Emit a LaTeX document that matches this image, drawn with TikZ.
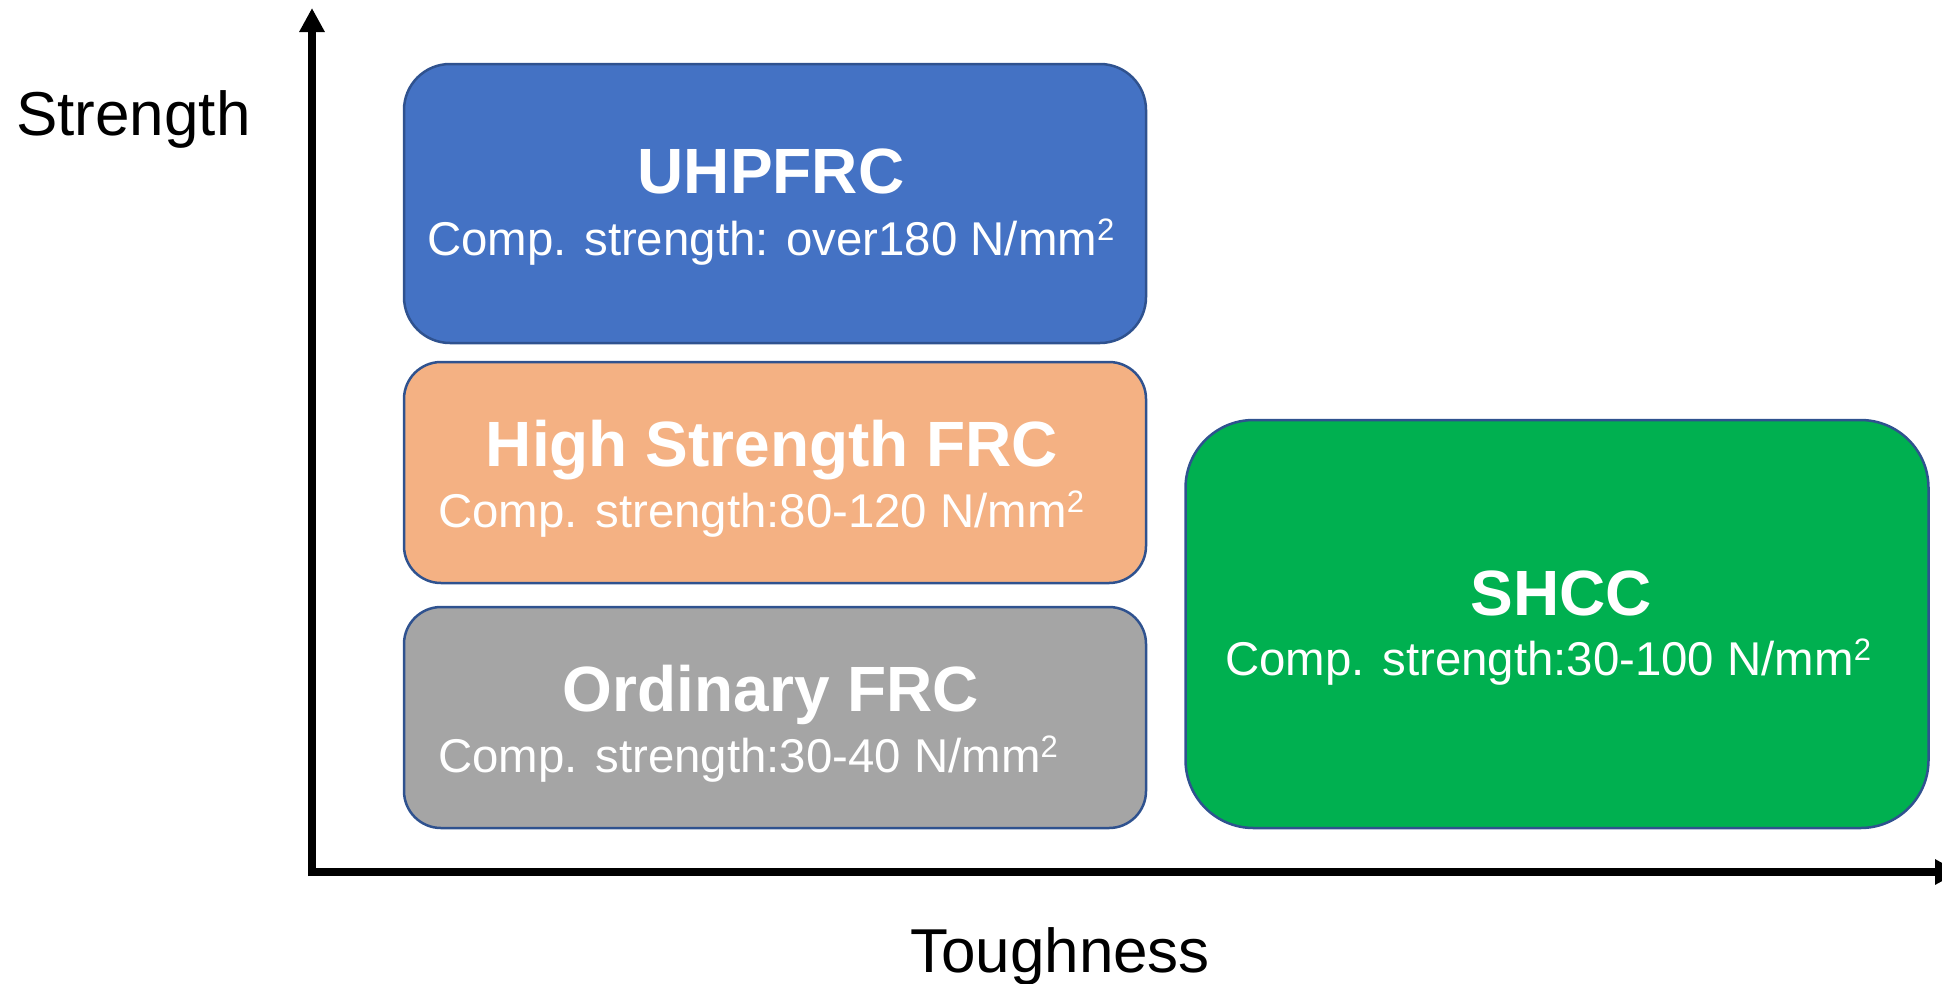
\documentclass[tikz,border=0pt]{standalone}
\usepackage{fontspec}
\setmainfont{Liberation Sans}
\usetikzlibrary{arrows.meta}
\definecolor{uhpblue}{HTML}{4472C4}
\definecolor{hsorange}{HTML}{F4B183}
\definecolor{ordgray}{HTML}{A5A5A5}
\definecolor{shccgreen}{HTML}{00B050}
\definecolor{edgeblue}{HTML}{2F528F}
\newcommand\sqmm{mm\raisebox{15pt}{\fontsize{31}{31}\selectfont 2}}
\tikzset{
  matbox/.style={draw=edgeblue, line width=2.5pt, inner sep=0pt, outer sep=0pt},
  title/.style={anchor=base, inner sep=0pt, text=white, font=\fontsize{64}{64}\selectfont\bfseries},
  sub/.style={anchor=base west, inner sep=0pt, text=white, font=\fontsize{47.4}{47.4}\selectfont},
  axlabel/.style={inner sep=0pt, text=black, font=\fontsize{62}{62}\selectfont},
  axis/.style={line width=8pt, -{Triangle[length=24pt,width=24pt]}}
}
\begin{document}
\begin{tikzpicture}[x=1pt,y=-1pt]
\useasboundingbox (0,0) rectangle (1942,983);
% boxes
\node[matbox, fill=uhpblue, rounded corners=46pt, minimum width=742pt, minimum height=279pt] (uhp) at (775,203.5) {};
\node[matbox, fill=hsorange, rounded corners=37pt, minimum width=742pt, minimum height=221pt] (hs) at (775,472.5) {};
\node[matbox, fill=ordgray, rounded corners=37pt, minimum width=742pt, minimum height=221pt] (ord) at (775,717.5) {};
\node[matbox, fill=shccgreen, rounded corners=68pt, minimum width=743pt, minimum height=408pt] (shcc) at (1557,624) {};
% texts
\node[title] (uhpT) at (771,193) {UHPFRC};
\node[sub] (uhpS) at (427,255) {Comp. strength: over180 N/\sqmm};
\node[title] (hsT) at (772,466) {High Strength FRC};
\node[sub] (hsS) at (438,527) {Comp. strength:80-120 N/\sqmm};
\node[title] (ordT) at (771,711) {Ordinary FRC};
\node[sub] (ordS) at (438,772) {Comp. strength:30-40 N/\sqmm};
\node[title] (shccT) at (1561,615) {SHCC};
\node[sub] (shccS) at (1225,675) {Comp. strength:30-100 N/\sqmm};
% axes
\coordinate (origin) at (312,872);
\coordinate (corner) at (312,876);
\coordinate (ytip) at (312,8);
\coordinate (xstart) at (308,872);
\coordinate (xtip) at (1959,872);
\draw[axis] (corner) -- (ytip);
\draw[axis] (xstart) -- (xtip);
\node[axlabel, anchor=base west] (ylab) at (16,135) {Strength};
\node[axlabel, anchor=base] (xlab) at (1060,972) {Toughness};
\end{tikzpicture}
\end{document}
